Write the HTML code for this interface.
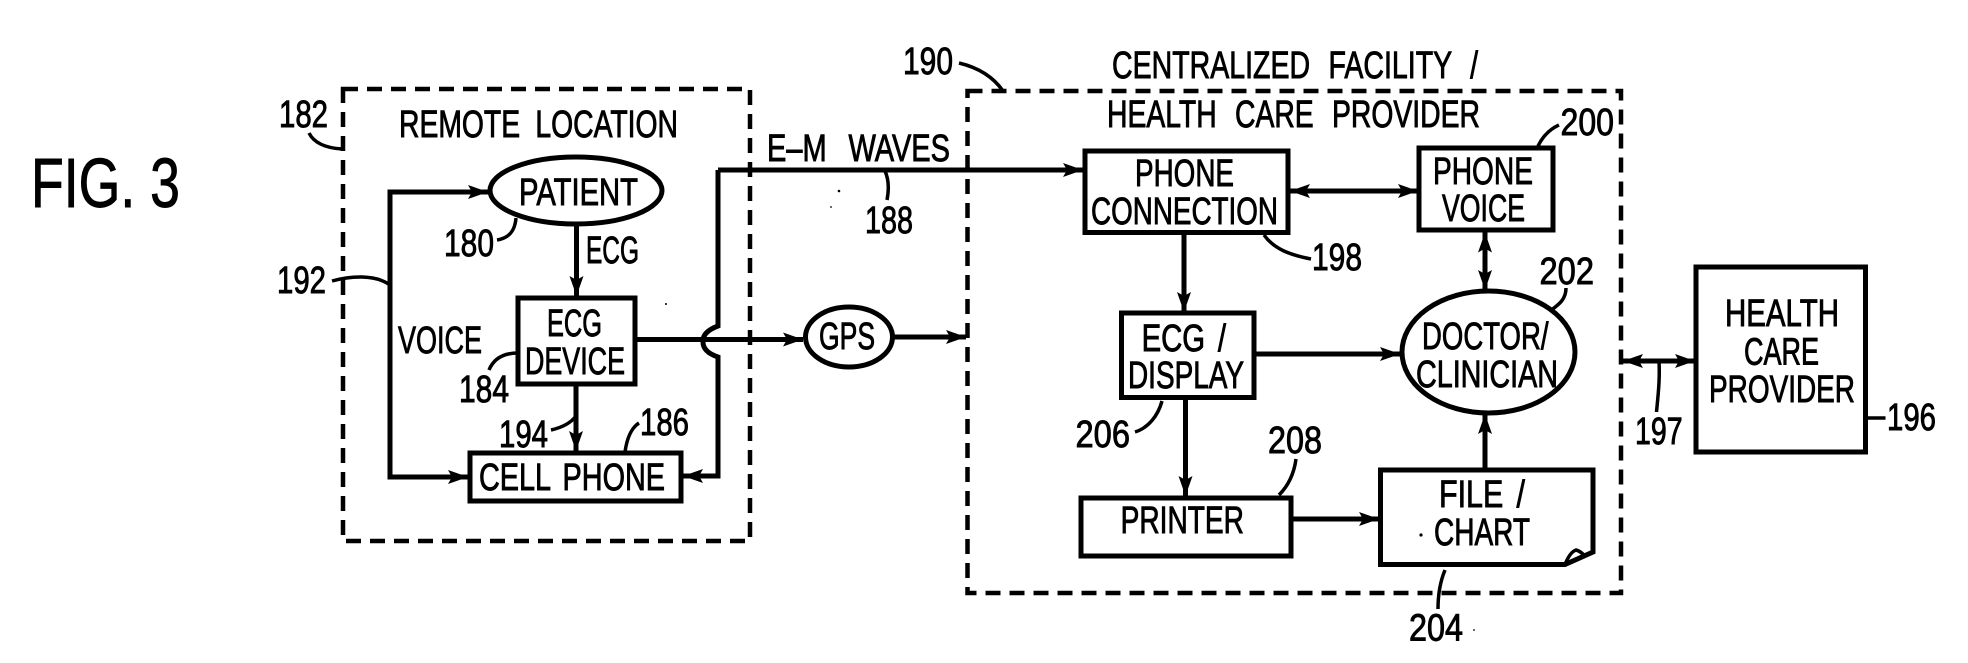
<!DOCTYPE html>
<html lang="en">
<head>
<meta charset="utf-8">
<title>FIG. 3</title>
<style>
html,body{margin:0;padding:0;background:#fff}
svg{display:block}
text{font-family:"Liberation Sans",sans-serif;fill:#000;stroke:#000;stroke-width:.9}
</style>
</head>
<body>
<svg width="1968" height="663" viewBox="0 0 1968 663" xmlns="http://www.w3.org/2000/svg">
<defs>
<marker id="a" viewBox="0 -8 22 16" refX="20" refY="0" markerUnits="userSpaceOnUse" markerWidth="22" markerHeight="16" orient="auto-start-reverse">
<path d="M0,-7 L20,0 L0,7 L4,0 Z" fill="#000"/>
</marker>
</defs>
<rect width="1968" height="663" fill="#fff"/>

<!-- dashed containers -->
<g fill="none" stroke="#000" stroke-width="4.5" stroke-dasharray="15 9">
<rect x="343" y="89" width="407" height="452"/>
<rect x="967.5" y="91" width="653.5" height="502"/>
</g>

<!-- boxes and ellipses -->
<g fill="none" stroke="#000" stroke-width="5">
<ellipse cx="576" cy="190.5" rx="86" ry="33.5"/>
<rect x="518" y="298" width="117" height="86"/>
<rect x="470" y="453" width="211" height="48"/>
<ellipse cx="849" cy="337" rx="43.5" ry="30"/>
<rect x="1085" y="151" width="203" height="81.5"/>
<rect x="1419" y="148" width="134" height="82"/>
<ellipse cx="1488.5" cy="352" rx="86.5" ry="61"/>
<rect x="1121.5" y="313" width="132.5" height="84.5"/>
<rect x="1081" y="498" width="210" height="58"/>
<path d="M1380.5 470 H1593 V552 L1565 564.5 H1380.5 Z"/>
<path d="M1565 564.5 Q1570 552 1576 550 Q1580 551 1584 555" stroke-width="3.5"/>
<rect x="1696" y="267" width="169.5" height="185"/>
</g>

<!-- connectors -->
<g fill="none" stroke="#000" stroke-width="5">
<path d="M488 192 H390 V477 H468" marker-end="url(#a)"/>
<path d="M390 192 H488" marker-end="url(#a)"/>
<path d="M576.5 224 V296" marker-end="url(#a)"/>
<path d="M576 384 V451" marker-end="url(#a)"/>
<path d="M718 170 H1083" marker-end="url(#a)"/>
<path d="M718 170 V326 Q702 332 703 342 Q703 352 718 357 V476 H683" marker-end="url(#a)"/>
<path d="M635 339.5 H803" marker-end="url(#a)"/>
<path d="M892 337 H966" marker-end="url(#a)"/>
<path d="M1290 191 H1418" marker-start="url(#a)" marker-end="url(#a)"/>
<path d="M1184 232.5 V312" marker-end="url(#a)"/>
<path d="M1485 232.5 V290" marker-start="url(#a)" marker-end="url(#a)"/>
<path d="M1254 354 H1400" marker-end="url(#a)"/>
<path d="M1185.5 398 V496" marker-end="url(#a)"/>
<path d="M1291 519 H1379" marker-end="url(#a)"/>
<path d="M1485 470 V414" marker-end="url(#a)"/>
<path d="M1623 361 H1695" marker-start="url(#a)" marker-end="url(#a)"/>
</g>

<!-- leaders -->
<g fill="none" stroke="#000" stroke-width="3.5">
<path d="M332 281 C350 276 375 274 390 285"/>
<path d="M309 133 C314 143 326 148 342 149"/>
<path d="M497 240 C510 238 515 230 516 218"/>
<path d="M489 370 C494 358 504 353 518 353"/>
<path d="M551 430 C560 428 570 424 576 416"/>
<path d="M625 452 C627 438 631 428 639 423"/>
<path d="M959 63 C980 68 994 78 1003 91"/>
<path d="M885 171 C889 180 889 190 887 200"/>
<path d="M1264 235 C1274 249 1290 255 1311 259"/>
<path d="M1538 146 C1543 136 1550 129 1559 125"/>
<path d="M1550 311 C1558 305 1566 300 1566 288"/>
<path d="M1135 432 C1148 428 1158 416 1162 401"/>
<path d="M1296 459 C1294 474 1288 486 1279 495"/>
<path d="M1445 570 C1440 582 1438 595 1438 609"/>
<path d="M1659 361 C1660 380 1658 396 1656.5 412"/>
<path d="M1866 418 H1885.5"/>
</g>

<!-- noise dots -->
<g fill="#000">
<circle cx="839" cy="191" r="1.3"/>
<circle cx="831" cy="207" r=".9"/>
<circle cx="666" cy="304" r="1"/>
<circle cx="1421" cy="535" r="1.6"/>
<circle cx="1474" cy="630" r=".9"/>
</g>

<!-- labels -->
<g font-size="38" lengthAdjust="spacingAndGlyphs">
<text x="31" y="207" font-size="70" textLength="149" lengthAdjust="spacingAndGlyphs">FIG. 3</text>
<text x="279" y="127" textLength="49" lengthAdjust="spacingAndGlyphs">182</text>
<text x="399" y="137" word-spacing="10" textLength="279" lengthAdjust="spacingAndGlyphs">REMOTE LOCATION</text>
<text x="519" y="205" textLength="119" lengthAdjust="spacingAndGlyphs">PATIENT</text>
<text x="444" y="256" textLength="50" lengthAdjust="spacingAndGlyphs">180</text>
<text x="586" y="263" textLength="53" lengthAdjust="spacingAndGlyphs">ECG</text>
<text x="277" y="293" textLength="49" lengthAdjust="spacingAndGlyphs">192</text>
<text x="398" y="353" textLength="84" lengthAdjust="spacingAndGlyphs">VOICE</text>
<text x="547" y="336" textLength="55" lengthAdjust="spacingAndGlyphs">ECG</text>
<text x="525" y="374" textLength="100" lengthAdjust="spacingAndGlyphs">DEVICE</text>
<text x="459" y="402" textLength="50" lengthAdjust="spacingAndGlyphs">184</text>
<text x="499" y="447" textLength="49" lengthAdjust="spacingAndGlyphs">194</text>
<text x="640" y="435" textLength="49" lengthAdjust="spacingAndGlyphs">186</text>
<text x="479" y="490" word-spacing="6" textLength="186" lengthAdjust="spacingAndGlyphs">CELL PHONE</text>
<text x="767" y="161" word-spacing="18" textLength="183" lengthAdjust="spacingAndGlyphs">E–M WAVES</text>
<text x="903" y="74" textLength="50" lengthAdjust="spacingAndGlyphs">190</text>
<text x="1112" y="78" word-spacing="14" textLength="366" lengthAdjust="spacingAndGlyphs">CENTRALIZED FACILITY /</text>
<text x="1107" y="127" word-spacing="14" textLength="373" lengthAdjust="spacingAndGlyphs">HEALTH CARE PROVIDER</text>
<text x="865" y="233" textLength="48" lengthAdjust="spacingAndGlyphs">188</text>
<text x="819" y="349" textLength="56" lengthAdjust="spacingAndGlyphs">GPS</text>
<text x="1135" y="186" textLength="99" lengthAdjust="spacingAndGlyphs">PHONE</text>
<text x="1091" y="224" textLength="187" lengthAdjust="spacingAndGlyphs">CONNECTION</text>
<text x="1312" y="270" textLength="50" lengthAdjust="spacingAndGlyphs">198</text>
<text x="1433" y="184" textLength="100" lengthAdjust="spacingAndGlyphs">PHONE</text>
<text x="1442" y="221" textLength="83" lengthAdjust="spacingAndGlyphs">VOICE</text>
<text x="1560.5" y="135" textLength="53.5" lengthAdjust="spacingAndGlyphs">200</text>
<text x="1539.5" y="284" textLength="54.5" lengthAdjust="spacingAndGlyphs">202</text>
<text x="1422" y="349" textLength="126.5" lengthAdjust="spacingAndGlyphs">DOCTOR/</text>
<text x="1416" y="387" textLength="142" lengthAdjust="spacingAndGlyphs">CLINICIAN</text>
<text x="1141.6" y="351" word-spacing="6" textLength="84.4" lengthAdjust="spacingAndGlyphs">ECG /</text>
<text x="1128" y="388" textLength="116" lengthAdjust="spacingAndGlyphs">DISPLAY</text>
<text x="1075.5" y="447" textLength="54.5" lengthAdjust="spacingAndGlyphs">206</text>
<text x="1268" y="453" textLength="54" lengthAdjust="spacingAndGlyphs">208</text>
<text x="1120.6" y="533" textLength="123.4" lengthAdjust="spacingAndGlyphs">PRINTER</text>
<text x="1439" y="507" word-spacing="6" textLength="86" lengthAdjust="spacingAndGlyphs">FILE /</text>
<text x="1434" y="545" textLength="96" lengthAdjust="spacingAndGlyphs">CHART</text>
<text x="1409" y="640.5" textLength="54" lengthAdjust="spacingAndGlyphs">204</text>
<text x="1635" y="444" textLength="47.6" lengthAdjust="spacingAndGlyphs">197</text>
<text x="1725" y="326" textLength="114" lengthAdjust="spacingAndGlyphs">HEALTH</text>
<text x="1744" y="364.5" textLength="75" lengthAdjust="spacingAndGlyphs">CARE</text>
<text x="1709" y="402" textLength="146" lengthAdjust="spacingAndGlyphs">PROVIDER</text>
<text x="1887" y="430" textLength="49" lengthAdjust="spacingAndGlyphs">196</text>
</g>
</svg>
</body>
</html>
